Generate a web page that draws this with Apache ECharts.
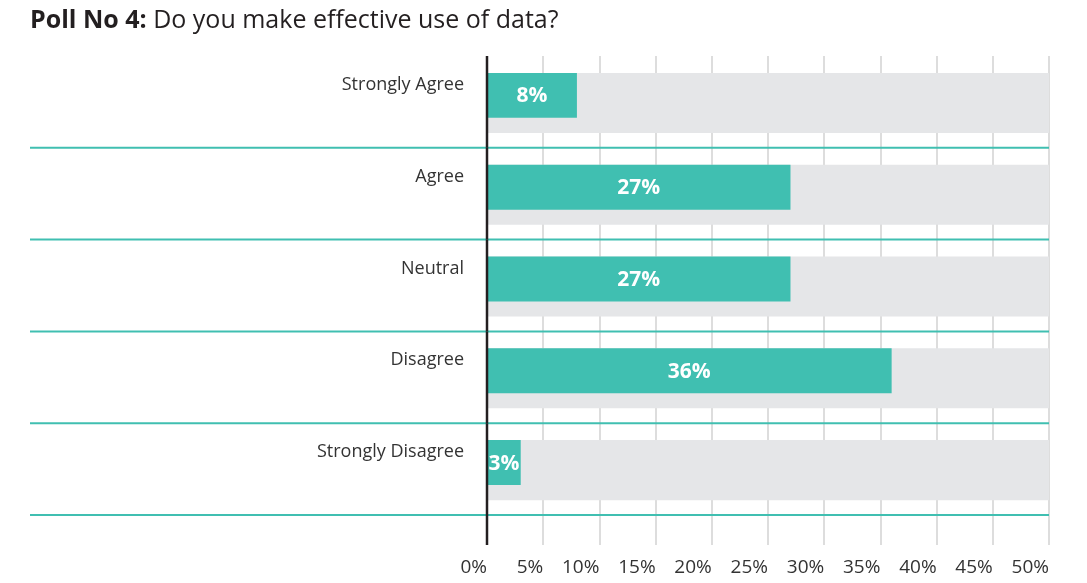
<!DOCTYPE html>
<html><head><meta charset="utf-8">
<script src="https://cdn.jsdelivr.net/npm/echarts@6/dist/echarts.min.js"></script>
<style>html,body{margin:0;padding:0;background:#fff}#c{width:1087px;height:583px}</style>
</head><body><div id="c"></div>
<script>
const categories = ['Strongly Agree', 'Agree', 'Neutral', 'Disagree', 'Strongly Disagree'];
const values = [8, 27, 27, 36, 3];
const xTicks = [0, 5, 10, 15, 20, 25, 30, 35, 40, 45, 50];

const FONT = '"Open Sans", "Noto Sans", sans-serif';
const TEAL = '#40bfb1';
const chart = echarts.init(document.getElementById('c'), null, {renderer: 'canvas'});
const xMax = xTicks[xTicks.length - 1];

chart.setOption({
  animation: false,
  title: {
    text: '{b|Poll No 4:} Do you make effective use of data?',
    left: 25, top: 3,
    textStyle: {
      fontFamily: FONT, fontSize: 25, fontWeight: 'normal', color: '#231f20',
      rich: { b: { fontFamily: FONT, fontSize: 25, fontWeight: 'bold', color: '#231f20' } }
    }
  },
  grid: { left: 487, right: 38, top: 56, bottom: 68, containLabel: false },
  xAxis: {
    type: 'value', min: xTicks[0], max: xMax, interval: 5,
    axisLine: { show: false },
    axisTick: { show: true, length: 30, lineStyle: { color: '#d2d2d2', width: 1.5 } },
    splitLine: { show: true, lineStyle: { color: '#d2d2d2', width: 1.5 } },
    axisLabel: { formatter: '{value}%', align: 'right', margin: 43, color: '#333', fontFamily: FONT, fontSize: 19 }
  },
  yAxis: {
    type: 'category', data: categories, inverse: true,
    axisLine: { show: false }, axisTick: { show: false }, splitLine: { show: false },
    axisLabel: { margin: 23, color: '#333', fontFamily: FONT, fontSize: 18, verticalAlign: 'bottom', lineHeight: 34 }
  },
  series: [{
    type: 'custom',
    encode: { x: 0, y: 1 },
    data: values.map((v, i) => [v, i]),
    renderItem: function (params, api) {
      const v = api.value(0), idx = api.value(1);
      const band = api.size([0, 1])[1];
      const c0 = api.coord([0, idx]);
      const cv = api.coord([v, idx]);
      const cm = api.coord([xMax, idx]);
      const top = c0[1] - band * 0.316;
      const grayH = band * 0.654, tealH = band * 0.49;
      const sepY = c0[1] + band / 2;
      const children = [
        { type: 'rect', shape: { x: c0[0], y: top, width: cm[0] - c0[0], height: grayH }, style: { fill: '#e5e6e8' } },
        { type: 'rect', shape: { x: c0[0], y: top, width: cv[0] - c0[0], height: tealH }, style: { fill: TEAL } },
        { type: 'line', shape: { x1: 30, y1: sepY, x2: cm[0], y2: sepY }, style: { stroke: TEAL, lineWidth: 2 } },
        { type: 'text', style: { text: v + '%', x: (c0[0] + cv[0]) / 2, y: top + tealH / 2 + 1, align: 'center', verticalAlign: 'middle',
            fill: '#fff', font: 'bold 21px ' + FONT } },
        { type: 'line', shape: { x1: c0[0], y1: c0[1] - band / 2, x2: c0[0], y2: sepY + (idx === categories.length - 1 ? 30 : 0) },
          style: { stroke: '#231f20', lineWidth: 2.5 } }
      ];
      return { type: 'group', children: children };
    }
  }]
});
</script></body></html>
